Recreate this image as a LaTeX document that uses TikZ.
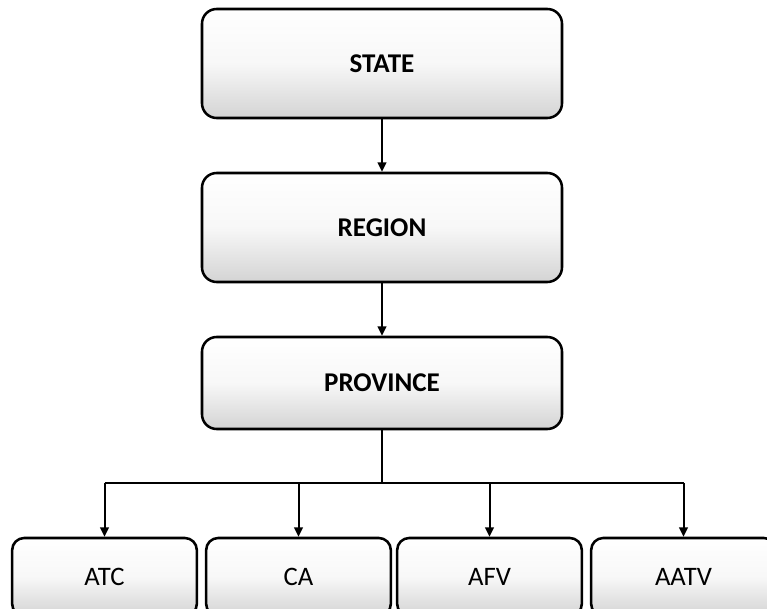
\documentclass[tikz,border=0pt]{standalone}
\usepackage{fontspec}
\setmainfont{Carlito}
\usetikzlibrary{arrows.meta}
\begin{document}
\begin{tikzpicture}[x=0.75pt,y=-0.75pt,
  box/.style={draw=black,line width=1.9pt,rounded corners=11pt,top color=white,bottom color=black!17,middle color=white!97!black,align=center,inner sep=0pt},
  bigbox/.style={box,minimum width=270pt,font=\bfseries\fontsize{20.3}{24}\selectfont},
  smallbox/.style={box,rounded corners=9pt,minimum width=138.5pt,minimum height=58.5pt,font=\fontsize{20}{24}\selectfont},
  conn/.style={line width=1.5pt,-{Triangle[length=7pt,width=6.5pt]}},
  bus/.style={line width=1.5pt}]
\useasboundingbox (0,0) rectangle (767,609);
\clip (0,0) rectangle (767,609);
\node[bigbox,minimum height=81.75pt] (state) at (382,63.5) {STATE};
\node[bigbox,minimum height=81.75pt] (region) at (382,227.5) {REGION};
\node[bigbox,minimum height=69pt] (prov) at (382,383) {PROVINCE};
\node[smallbox] (atc) at (104.5,577) {ATC};
\node[smallbox] (ca) at (298.5,577) {CA};
\node[smallbox] (afv) at (489.5,577) {AFV};
\node[smallbox] (aatv) at (683.5,577) {AATV};
\coordinate (j) at (382,483);
\draw[conn] (state) -- (region);
\draw[conn] (region) -- (prov);
\draw[bus] (prov.south) -- (j);
\draw[bus] (atc.north |- j) -- (aatv.north |- j);
\foreach \n in {atc,ca,afv,aatv}{
  \draw[conn] (\n.north |- j) -- (\n.north);
}
\end{tikzpicture}
\end{document}
